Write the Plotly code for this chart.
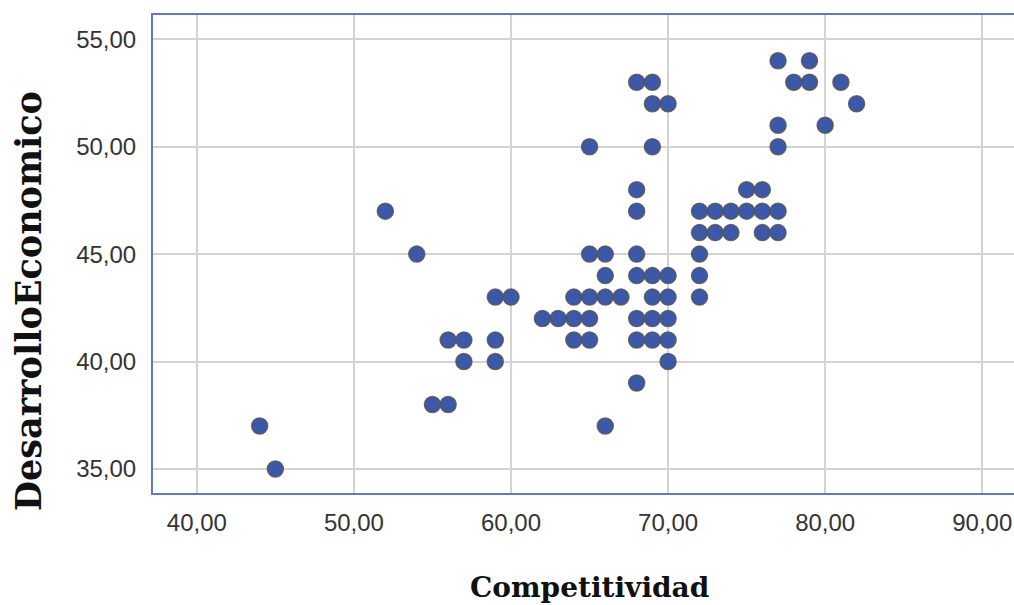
import plotly.graph_objects as go

competitividad = [44, 45, 52, 54, 55, 56, 56, 57, 57, 59, 60, 59, 59,
                  62, 63, 64, 65, 64, 65, 66, 67, 64, 65, 65, 66, 66, 66, 65,
                  68, 69, 69, 70, 69, 68, 68, 68, 68, 69, 70, 69, 70, 68, 69, 70, 68, 69, 70, 70, 68,
                  72, 73, 74, 75, 76, 77, 75, 76, 72, 73, 74, 76, 77, 72, 72, 72,
                  77, 79, 78, 79, 81, 82, 77, 80, 77]
desarrollo = [37, 35, 47, 45, 38, 38, 41, 41, 40, 43, 43, 41, 40,
              42, 42, 42, 42, 43, 43, 43, 43, 41, 41, 45, 45, 44, 37, 50,
              53, 53, 52, 52, 50, 48, 47, 45, 44, 44, 44, 43, 43, 42, 42, 42, 41, 41, 41, 40, 39,
              47, 47, 47, 47, 47, 47, 48, 48, 46, 46, 46, 46, 46, 45, 44, 43,
              54, 54, 53, 53, 53, 52, 51, 51, 50]

x_ticks = [40, 50, 60, 70, 80, 90]
x_labels = ["40,00", "50,00", "60,00", "70,00", "80,00", "90,00"]
y_ticks = [35, 40, 45, 50, 55]
y_labels = ["35,00", "40,00", "45,00", "50,00", "55,00"]

fig = go.Figure()
fig.add_trace(go.Scatter(
    x=competitividad, y=desarrollo, mode="markers",
    marker=dict(size=16, color="rgb(60,88,168)",
                line=dict(color="rgba(85,85,85,0.85)", width=1.5)),
    showlegend=False, hoverinfo="x+y",
))

axis_line = "#6478BE"
grid = "#D3D3D3"
tickfont = dict(family="Liberation Sans, Arial, sans-serif", size=24, color="#333333")

fig.update_layout(
    width=1014, height=605,
    margin=dict(l=153, r=0, t=15, b=112),
    plot_bgcolor="white", paper_bgcolor="white",
    xaxis=dict(range=[37.21, 92.02], tickvals=x_ticks, ticktext=x_labels,
               showgrid=True, gridcolor=grid, gridwidth=2,
               showline=True, linecolor=axis_line, linewidth=2, mirror=True,
               ticks="outside", ticklen=7, tickcolor="rgba(0,0,0,0)",
               tickfont=tickfont, zeroline=False),
    yaxis=dict(range=[33.88, 56.13], tickvals=y_ticks, ticktext=y_labels,
               showgrid=True, gridcolor=grid, gridwidth=2,
               showline=True, linecolor=axis_line, linewidth=2, mirror=False,
               ticks="outside", ticklen=10, tickcolor="rgba(0,0,0,0)",
               tickfont=tickfont, zeroline=False),
    annotations=[
        dict(text="<b>Competitividad</b>", xref="paper", yref="paper",
             x=0.5073, y=-0.1987, xanchor="center", yanchor="middle",
             showarrow=False,
             font=dict(family="DejaVu Serif", size=28, color="#111111")),
        dict(text="<b>DesarrolloEconomico</b>", xref="paper", yref="paper",
             x=-0.1436, y=0.4017, xanchor="center", yanchor="middle",
             showarrow=False, textangle=-90,
             font=dict(family="DejaVu Serif", size=35, color="#111111")),
    ],
)

fig.write_html("out.html", config={"displayModeBar": False},
               post_script="document.body.style.margin='0';document.body.style.overflow='hidden';")
